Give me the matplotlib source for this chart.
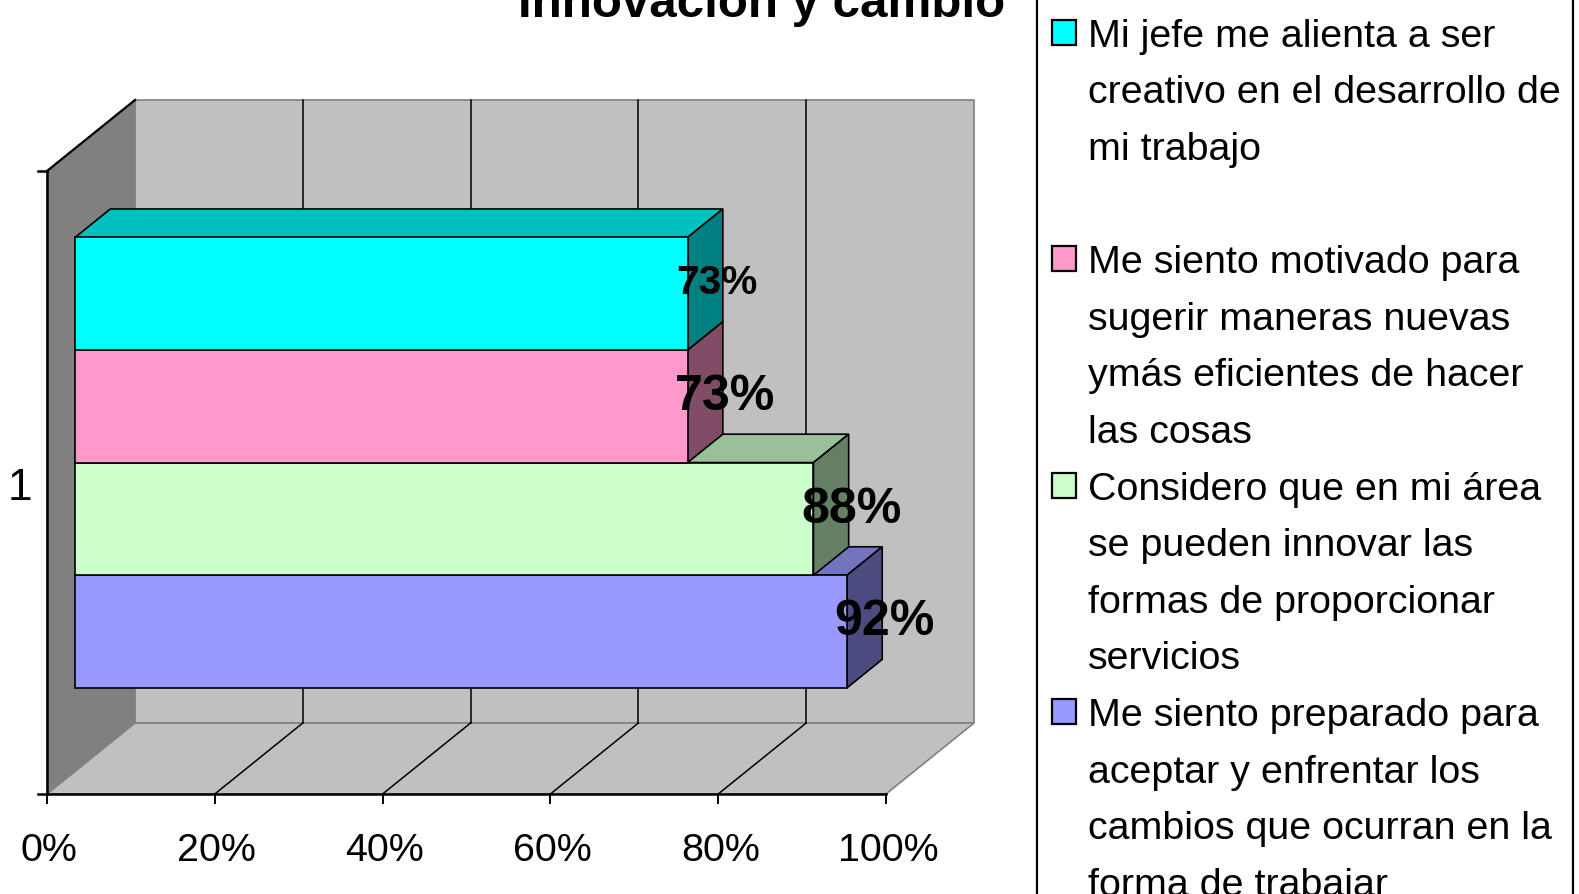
import matplotlib
matplotlib.use("Agg")
import matplotlib.pyplot as plt
from matplotlib import font_manager
from matplotlib.patches import Polygon, Rectangle

# data
series = [
    "Mi jefe me alienta a ser\ncreativo en el desarrollo de\nmi trabajo",
    "Me siento motivado para\nsugerir maneras nuevas\nymás eficientes de hacer\nlas cosas",
    "Considero que en mi área\nse pueden innovar las\nformas de proporcionar\nservicios",
    "Me siento preparado para\naceptar y enfrentar los\ncambios que ocurran en la\nforma de trabajar",
]
values = [73, 73, 88, 92]
value_labels = ["73%", "73%", "88%", "92%"]
face_colors = ["#00FFFF", "#FF99CC", "#CCFFCC", "#9999FF"]
top_colors = ["#00C0C0", "#C07399", "#99C099", "#7373C0"]
side_colors = ["#008080", "#804C66", "#668066", "#4C4C80"]
tick_values = [0, 20, 40, 60, 80, 100]
tick_labels = ["0%", "20%", "40%", "60%", "80%", "100%"]
category = "1"
title = "Innovación y cambio"

names = {f.name for f in font_manager.fontManager.ttflist}
NARROW = "Liberation Sans Narrow" in names
narrow = "Liberation Sans Narrow" if NARROW else "Liberation Sans"
k = 1.0 if NARROW else 0.86   # shrink sizes if narrow face is missing

# geometry of the 3D box in pixels
X0, X1 = 47, 886
YTOP, YBOT = 171, 794
DX, DY = 88, -71
Z0, Z1 = 0.32, 0.72
H0, H1 = 0.134, 0.857


def proj(v, z, h):
    x = X0 + v / 100 * (X1 - X0) + z * DX
    y = YBOT - h * (YBOT - YTOP) + z * DY
    return (x, y)


def poly(ax, pts, fc, ec="black", lw=1.2, z=2):
    ax.add_patch(Polygon(pts, closed=True, facecolor=fc, edgecolor=ec,
                         linewidth=lw, zorder=z, joinstyle="miter"))


fig = plt.figure(figsize=(15.79, 8.94), dpi=100)
ax = fig.add_axes([0, 0, 1, 1])
ax.set_xlim(0, 1579)
ax.set_ylim(894, 0)
ax.axis("off")

# walls and floor
poly(ax, [proj(0, 0, 1), proj(0, 1, 1), proj(0, 1, 0), proj(0, 0, 0)], "#808080", ec="#808080", lw=1, z=1)
poly(ax, [proj(0, 1, 1), proj(100, 1, 1), proj(100, 1, 0), proj(0, 1, 0)], "#C0C0C0", ec="#808080", lw=1.2, z=1)
poly(ax, [proj(0, 0, 0), proj(100, 0, 0), proj(100, 1, 0), proj(0, 1, 0)], "#C0C0C0", ec="#808080", lw=1.2, z=1)
ax.plot(*zip(proj(0, 0, 1), proj(0, 1, 1)), color="black", lw=1.6, zorder=1.5)

for t in tick_values[1:-1]:
    ax.plot(*zip(proj(t, 1, 0), proj(t, 1, 1)), color="black", lw=1.1, zorder=1.5)
    ax.plot(*zip(proj(t, 0, 0), proj(t, 1, 0)), color="black", lw=1.1, zorder=1.5)

# axes lines and ticks
ax.plot(*zip(proj(0, 0, 0), proj(0, 0, 1)), color="black", lw=1.8, zorder=3)
ax.plot([X0 - 9, X1], [YBOT, YBOT], color="black", lw=1.8, zorder=3)
ax.plot([X0 - 9, X0], [YTOP, YTOP], color="black", lw=1.8, zorder=3)
for t, lab in zip(tick_values, tick_labels):
    x, y = proj(t, 0, 0)
    ax.plot([x, x], [y, y + 9], color="black", lw=1.4, zorder=3)
    ax.text(x + 2, 861, lab, ha="center", va="baseline", fontsize=33 * k, family=narrow)
ax.text(20, 500, category, ha="center", va="baseline", fontsize=37 * k, family=narrow)

# bars, drawn from bottom to top so upper fronts cover lower tops
n = len(values)
bh = (H1 - H0) / n
for i in reversed(range(n)):
    v = values[i]
    ht = H1 - i * bh
    hb = ht - bh
    poly(ax, [proj(0, Z0, ht), proj(0, Z1, ht), proj(v, Z1, ht), proj(v, Z0, ht)], top_colors[i])
    poly(ax, [proj(v, Z0, hb), proj(v, Z0, ht), proj(v, Z1, ht), proj(v, Z1, hb)], side_colors[i])
    poly(ax, [proj(0, Z0, hb), proj(v, Z0, hb), proj(v, Z0, ht), proj(0, Z0, ht)], face_colors[i])

# value labels
zm = (Z0 + Z1) / 2
for i in range(n):
    ht = H1 - i * bh
    x, y = proj(values[i], zm, ht - bh / 2)
    fs = (34 if i == 0 else 42) * k
    dx = 12 if i == 0 else 20
    ax.text(x + dx, y + fs * 0.5 * 100 / 72 * 0.72, value_labels[i], ha="center", va="baseline",
            fontsize=fs, fontweight="bold", family=narrow, zorder=5)

# title (cut at the top edge, as in the original)
ax.text(762, 17, title, ha="center", va="baseline", fontsize=35.5, fontweight="bold",
        family="Liberation Sans", zorder=5)

# legend
ax.add_patch(Rectangle((1037, -10), 536, 920, facecolor="white", edgecolor="black",
                       linewidth=1.6, zorder=4))
for i, text in enumerate(series):
    base = 46.6 + i * 226.5
    ax.add_patch(Rectangle((1052, base - 27), 24, 25, facecolor=face_colors[i],
                           edgecolor="black", linewidth=1.6, zorder=5))
    for j, line in enumerate(text.split("\n")):
        ax.text(1088, base + j * 56.5, line, ha="left", va="baseline",
                fontsize=33 * k, family=narrow, zorder=5)

fig.savefig("out.png", dpi=100)
